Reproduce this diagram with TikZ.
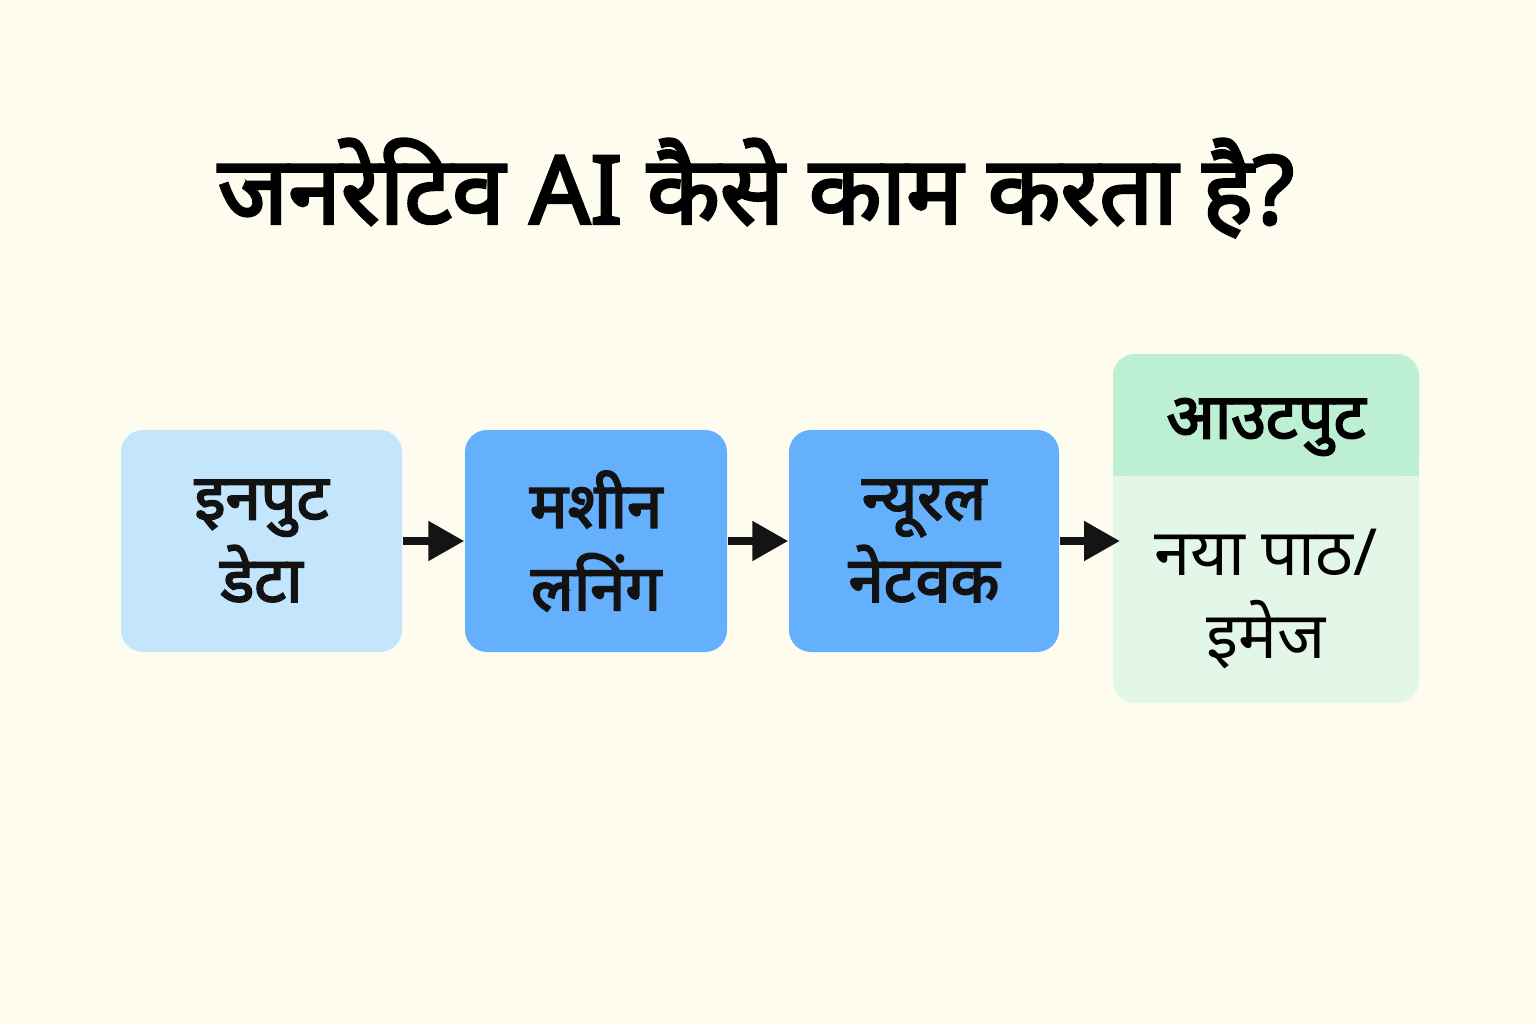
\documentclass[tikz,border=0pt]{standalone}
\usepackage{fontspec}
\setmainfont[Script=Devanagari]{Noto Sans}
\newfontfamily\heavyfont[Script=Devanagari,FakeBold=3]{Noto Sans}
\usetikzlibrary{arrows.meta}
\definecolor{paper}{HTML}{FEFBEF}
\definecolor{inblue}{HTML}{C4E6FC}
\definecolor{stepblue}{HTML}{64B0FD}
\definecolor{outhead}{HTML}{BDEFD3}
\definecolor{outbody}{HTML}{E3F7E8}

\begin{document}
\begin{tikzpicture}[flowbox/.style={rounded corners=0.22cm,minimum height=2.22cm,
      align=center,font=\fontsize{18}{23.5}\heavyfont,text=black!93},
      flowarrow/.style={draw=black!92,line width=2.3pt,
      -{Triangle[length=0.36cm,width=0.38cm]}},
      outpart/.style={rounded corners=0.22cm,minimum width=3.06cm,
      inner sep=0pt,outer sep=0pt}]
  \fill[paper] (0,0) rectangle (15.36,10.24);
  \node[font=\fontsize{27}{32}\heavyfont] (title) at (7.56,8.36)
  {जनरेटिव AI कैसे काम करता है?};
  \node[flowbox,fill=inblue,minimum width=2.81cm] (input) at (2.615,4.83)
  {इनपुट\\डेटा};
  \node[flowbox,fill=stepblue,minimum width=2.62cm] (ml) at (5.96,4.83)
  {मशीन\\लनिंग};
  \node[flowbox,fill=stepblue,minimum width=2.70cm] (nn) at (9.24,4.83)
  {न्यूरल\\नेटवक};
  \node[outpart,fill=outbody,minimum height=3.49cm] (out) at (12.66,4.955) {};
  \node[outpart,fill=outhead,minimum height=1.22cm,anchor=north] (head)
  at (out.north) {};
  \fill[outhead] (head.west) rectangle (head.south east);
  \node[font=\fontsize{18}{23}\heavyfont] (headtext) at ([yshift=-0.12cm]head)
  {आउटपुट};
  \node[font=\fontsize{18.5}{23.5}\selectfont,align=center] (result)
  at (12.66,4.25) {नया पाठ/\\इमेज};
  \draw[flowarrow] (input) -- (ml);
  \draw[flowarrow] (ml) -- (nn);
  \draw[flowarrow] (nn.east) -- ([xshift=0.07cm]out.west |- nn.east);
\end{tikzpicture}
\end{document}
